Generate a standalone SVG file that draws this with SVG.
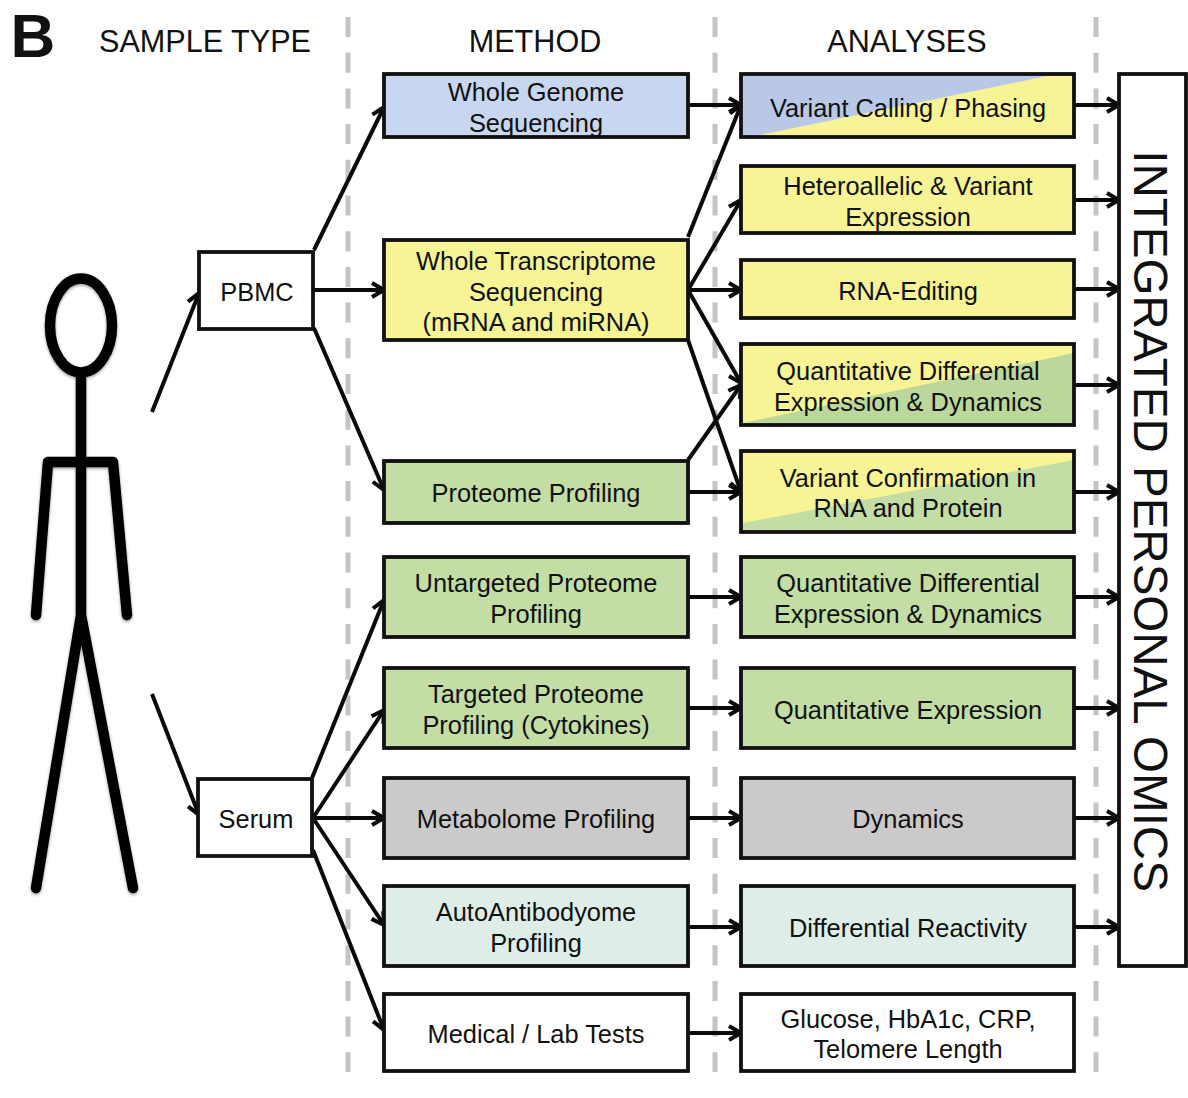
<svg xmlns="http://www.w3.org/2000/svg" width="1188" height="1098" viewBox="0 0 1188 1098">
<style>
text{font-family:"Liberation Sans",Arial,sans-serif;fill:#111;text-anchor:middle}
.t{font-size:25.400px}
.h{font-size:30.600px}
.box{stroke:#111;stroke-width:3.8}
.dash{stroke:#c4c4c4;stroke-width:5;stroke-dasharray:20 15.7;fill:none}
.c{stroke:#0a0a0a;stroke-width:4;fill:none;marker-end:url(#a)}
.fig{stroke:#050505;stroke-width:10.500;fill:none;stroke-linecap:round}
.y{fill:#F6F495}.b{fill:#B9C8E6}.g{fill:#BCD79B}.g2{fill:#C3DDA4}.w{fill:#fff}.n{fill:none}
</style>
<defs>
<marker id="a" markerUnits="userSpaceOnUse" markerWidth="24" markerHeight="24" refX="13" refY="12" orient="auto" overflow="visible">
<path d="M1,5 L13,12 L1,19" fill="none" stroke="#0a0a0a" stroke-width="4"/>
</marker>
<filter id="s" x="-20%" y="-5%" width="140%" height="110%"><feDropShadow dx="0" dy="1.500" stdDeviation="1.500" flood-color="#000" flood-opacity=".4"/></filter>
</defs>
<rect width="1188" height="1098" fill="#fff"/>
<g id="dividers">
<path class="dash" d="M348,17V1072"/>
<path class="dash" d="M715,17V1072"/>
<path class="dash" d="M1096,17V1072"/>
</g>
<g id="panel-label"><text x="33" y="57" style="font-size:62px;font-weight:bold">B</text></g>
<g id="headers">
<text class="h" x="205" y="52">SAMPLE TYPE</text>
<text class="h" x="535" y="52">METHOD</text>
<text class="h" x="907" y="52">ANALYSES</text>
</g>
<g id="person" class="fig" filter="url(#s)">
<ellipse cx="81" cy="325.500" rx="31" ry="47"/>
<path d="M81,378V615M48,462H113M48,462L36,615M113,462L127,615M81,615L36,888M81,615L133,888"/>
</g>
<g id="connectors">
<path class="c" d="M152,412L199,293"/>
<path class="c" d="M152,694L199,815"/>
<path class="c" d="M314,250L384,107"/>
<path class="c" d="M314,290H384"/>
<path class="c" d="M314,328L384,490"/>
<path class="c" d="M312,778L384,600"/>
<path class="c" d="M313,818L384,710"/>
<path class="c" d="M313,818H384"/>
<path class="c" d="M313,818L384,925"/>
<path class="c" d="M313,850L384,1030"/>
<path class="c" d="M689,105H741"/>
<path class="c" d="M688,237L741,105"/>
<path class="c" d="M688,290L741,200"/>
<path class="c" d="M688,290H741"/>
<path class="c" d="M688,290L741,383"/>
<path class="c" d="M688,340L741,492"/>
<path class="c" d="M688,460L741,385"/>
<path class="c" d="M688,492H741"/>
<path class="c" d="M689,597H741"/>
<path class="c" d="M689,708H741"/>
<path class="c" d="M689,818H741"/>
<path class="c" d="M689,927H741"/>
<path class="c" d="M689,1033H741"/>
<path class="c" d="M1075,105H1119"/>
<path class="c" d="M1075,200H1119"/>
<path class="c" d="M1075,289H1119"/>
<path class="c" d="M1075,385H1119"/>
<path class="c" d="M1075,492H1119"/>
<path class="c" d="M1075,597H1119"/>
<path class="c" d="M1075,708H1119"/>
<path class="c" d="M1075,818H1119"/>
<path class="c" d="M1075,927H1119"/>
</g>
<g id="pbmc"><rect class="box w" x="199" y="252" width="114" height="77"/><text class="t" x="257" y="301">PBMC</text></g>
<g id="serum"><rect class="box w" x="198" y="779" width="114" height="77"/><text class="t" x="256" y="828">Serum</text></g>
<g id="m-wgs"><rect class="box" fill="#C9D6EF" x="384" y="74" width="304" height="63"/><text class="t" x="536" y="101">Whole Genome</text><text class="t" x="536" y="132">Sequencing</text></g>
<g id="m-wt"><rect class="box y" x="384" y="240" width="304" height="100"/><text class="t" x="536" y="270">Whole Transcriptome</text><text class="t" x="536" y="301">Sequencing</text><text class="t" x="536" y="331">(mRNA and miRNA)</text></g>
<g id="m-prot"><rect class="box g2" x="384" y="461" width="304" height="62"/><text class="t" x="536" y="502">Proteome Profiling</text></g>
<g id="m-untar"><rect class="box g2" x="384" y="557" width="304" height="80"/><text class="t" x="536" y="592">Untargeted Proteome</text><text class="t" x="536" y="623">Profiling</text></g>
<g id="m-tar"><rect class="box g2" x="384" y="668" width="304" height="80"/><text class="t" x="536" y="703">Targeted Proteome</text><text class="t" x="536" y="734">Profiling (Cytokines)</text></g>
<g id="m-met"><rect class="box" fill="#CBC9C9" x="384" y="778" width="304" height="80"/><text class="t" x="536" y="828">Metabolome Profiling</text></g>
<g id="m-auto"><rect class="box" fill="#DFEDE9" x="384" y="886" width="304" height="80"/><text class="t" x="536" y="921">AutoAntibodyome</text><text class="t" x="536" y="952">Profiling</text></g>
<g id="m-med"><rect class="box w" x="384" y="994" width="304" height="77"/><text class="t" x="536" y="1043">Medical / Lab Tests</text></g>
<g id="a-var"><rect class="y" x="741" y="74" width="333" height="63"/><polygon class="b" points="741,74 1057,74 750,137 741,137"/><rect class="box n" x="741" y="74" width="333" height="63"/><text class="t" x="908" y="117">Variant Calling / Phasing</text></g>
<g id="a-het"><rect class="box y" x="741" y="166" width="333" height="67"/><text class="t" x="908" y="195">Heteroallelic &amp; Variant</text><text class="t" x="908" y="226">Expression</text></g>
<g id="a-rna"><rect class="box y" x="741" y="260" width="333" height="58"/><text class="t" x="908" y="300">RNA-Editing</text></g>
<g id="a-qd"><rect class="y" x="741" y="344" width="333" height="81"/><polygon class="g" points="1074,353 1074,425 743,425 743,423"/><rect class="box n" x="741" y="344" width="333" height="81"/><text class="t" x="908" y="380">Quantitative Differential</text><text class="t" x="908" y="411">Expression &amp; Dynamics</text></g>
<g id="a-conf"><rect class="y" x="741" y="451" width="333" height="81"/><polygon class="g2" points="1074,460 1074,532 743,532 743,523"/><rect class="box n" x="741" y="451" width="333" height="81"/><text class="t" x="908" y="487">Variant Confirmation in</text><text class="t" x="908" y="517">RNA and Protein</text></g>
<g id="a-qd2"><rect class="box g2" x="741" y="557" width="333" height="80"/><text class="t" x="908" y="592">Quantitative Differential</text><text class="t" x="908" y="623">Expression &amp; Dynamics</text></g>
<g id="a-qe"><rect class="box g2" x="741" y="668" width="333" height="80"/><text class="t" x="908" y="719">Quantitative Expression</text></g>
<g id="a-dyn"><rect class="box" fill="#CBC9C9" x="741" y="778" width="333" height="80"/><text class="t" x="908" y="828">Dynamics</text></g>
<g id="a-diff"><rect class="box" fill="#DFEDE9" x="741" y="886" width="333" height="80"/><text class="t" x="908" y="937">Differential Reactivity</text></g>
<g id="a-glu"><rect class="box w" x="741" y="994" width="333" height="77"/><text class="t" x="908" y="1028">Glucose, HbA1c, CRP,</text><text class="t" x="908" y="1058">Telomere Length</text></g>
<g id="integrated"><rect class="box w" x="1119" y="74" width="67" height="892"/><text transform="translate(1134,521) rotate(90)" style="font-size:47.500px">INTEGRATED PERSONAL OMICS</text></g>
</svg>
